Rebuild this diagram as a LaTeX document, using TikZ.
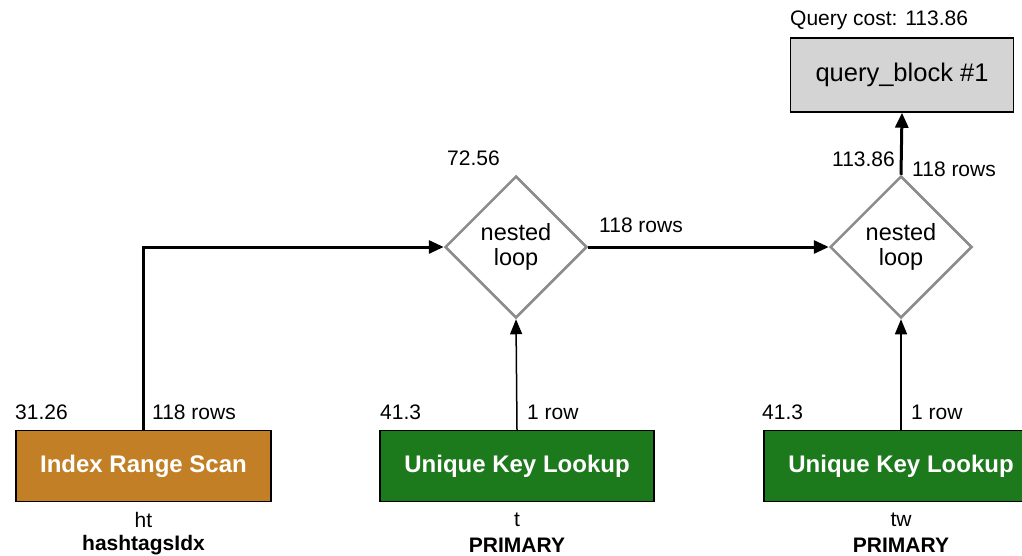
\documentclass[tikz,border=0pt]{standalone}
\usepackage{fontspec}
\setmainfont{Liberation Sans}
\usetikzlibrary{shapes.geometric,arrows.meta}
\definecolor{irsorange}{RGB}{194,127,38}
\definecolor{ukgreen}{RGB}{28,122,28}
\definecolor{qbgray}{RGB}{212,212,212}
\definecolor{dgray}{RGB}{140,140,140}
\begin{document}
\begin{tikzpicture}[x=1pt,y=-1pt,
  lbl/.style={font=\fontsize{21}{24}\selectfont, inner sep=0pt},
  blbl/.style={font=\fontsize{21}{24}\selectfont\bfseries, inner sep=0pt},
  opbox/.style={draw=black, line width=1.5pt, minimum height=71pt, inner sep=0pt,
     text=white, font=\fontsize{24}{28}\selectfont\bfseries},
  loopnode/.style={shape=diamond, draw=dgray, line width=2.5pt, fill=white, minimum width=142pt,
     minimum height=142pt, inner sep=0pt, align=center, font=\fontsize{23.5}{25}\selectfont},
  bigflow/.style={line width=3pt, -{Triangle[length=15pt,width=13pt]}},
  smallflow/.style={line width=1.5pt, -{Triangle[length=15pt,width=12pt]}}
]
\useasboundingbox (0,0) rectangle (1022,555);
\fill[white] (0,0) rectangle (1022,555);

% nodes
\node[opbox, fill=irsorange, minimum width=255pt] (irs) at (143.5,466) {Index Range Scan};
\node[opbox, fill=ukgreen, minimum width=274pt] (uk1) at (517,466) {Unique Key Lookup};
\node[opbox, fill=ukgreen, minimum width=274pt] (uk2) at (901,466) {Unique Key Lookup};
\node[draw=black, line width=1.5pt, fill=qbgray, minimum width=223pt, minimum height=74pt,
      inner sep=0pt, font=\fontsize{25.5}{28}\selectfont] (qb) at (902,75) {query\_block \#1};
\node[loopnode] (nl1) at (516,247) {nested\\loop};
\node[loopnode] (nl2) at (901,247) {nested\\loop};

% connectors
\draw[bigflow] (irs.north) |- (nl1.west);
\draw[smallflow] (uk1.north) -- (nl1.south);
\draw[bigflow] (nl1.east) -- (nl2.west);
\draw[smallflow] (uk2.north) -- (nl2.south);
\draw[bigflow] (nl2.north) -- (qb.south);

% labels
\node[lbl, anchor=west] (qc) at (790,20) {Query cost: 113.86};
\node[lbl, anchor=east] (c5) at (895,159) {113.86};
\node[lbl, anchor=west] (r5) at (912,169) {118 rows};
\node[lbl, anchor=west] (c2) at (447,158) {72.56};
\node[lbl, anchor=west] (r3) at (599,225) {118 rows};
\node[lbl, anchor=west] (c1) at (15,412) {31.26};
\node[lbl, anchor=west] (r1) at (152,412) {118 rows};
\node[lbl, anchor=west] (c3) at (380,412) {41.3};
\node[lbl, anchor=west] (r2) at (527,412) {1 row};
\node[lbl, anchor=west] (c4) at (762,412) {41.3};
\node[lbl, anchor=west] (r4) at (911,412) {1 row};

\node[lbl] (t1) at (143.5,520) {ht};
\node[blbl] (i1) at (143.5,545) {hashtagsIdx};
\node[lbl] (t2) at (517,520) {t};
\node[blbl] (i2) at (517,545) {PRIMARY};
\node[lbl] (t3) at (901,520) {tw};
\node[blbl] (i3) at (901,545) {PRIMARY};
\end{tikzpicture}
\end{document}
